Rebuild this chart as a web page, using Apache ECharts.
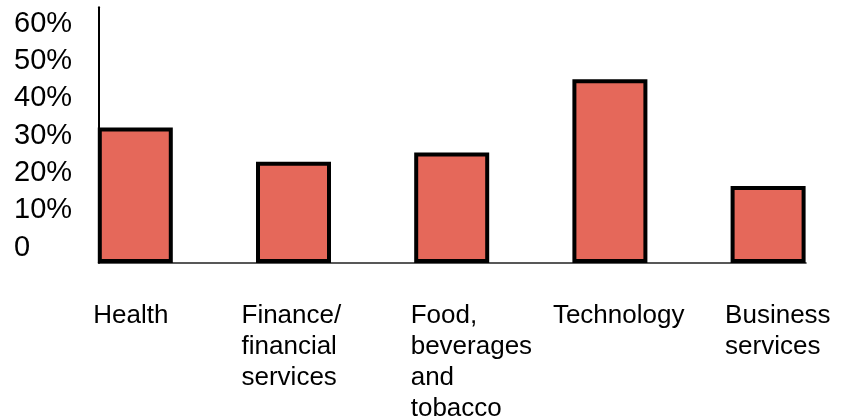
<!DOCTYPE html>
<html>
<head>
<meta charset="utf-8">
<title>Share by sector</title>
<script src="https://cdn.jsdelivr.net/npm/echarts@6/dist/echarts.min.js"></script>
<style>
  html, body { margin: 0; padding: 0; background: #fff; }
  #chart { width: 849px; height: 419px; }
</style>
</head>
<body>
<div id="chart"></div>
<script>
// Sectors and their shares (percent)
const categories = [
  'Health',
  'Finance/\nfinancial\nservices',
  'Food,\nbeverages\nand\ntobacco',
  'Technology',
  'Business\nservices'
];
const shares = [36.3, 27.1, 29.6, 49.2, 20.6];

// Value axis range and tick step (percent)
const yMin = 0;
const yMax = 68.5;
const yStep = 10;

// Extra left indent of each sector caption (px)
const captionIndent = [18, 8, 19, 3, 17];

const FONT = "'Liberation Sans', Arial, Helvetica, sans-serif";
const BAR_COLOR = '#e5685a';

const chart = echarts.init(document.getElementById('chart'), null, { renderer: 'canvas' });

const plotTop = 7.3;
const plotBottom = 156;

const captionStyle = {
  align: 'left', verticalAlign: 'top',
  fontFamily: FONT, fontSize: 26, lineHeight: 31, color: '#000'
};

chart.setOption({
  animation: false,
  backgroundColor: '#ffffff',
  grid: [
    // bars
    { left: 56.2, right: 1.8, top: plotTop, bottom: plotBottom, containLabel: false, outerBoundsMode: 'none' },
    // axis frame and percent labels
    { left: 98.5, right: 43, top: plotTop, bottom: plotBottom, containLabel: false, outerBoundsMode: 'none' },
    // sector captions
    { left: -3.8, right: 61.8, top: plotTop, bottom: plotBottom, containLabel: false, outerBoundsMode: 'none' }
  ],
  xAxis: [
    {
      gridIndex: 0, type: 'category', data: categories,
      axisLine: { show: false }, axisTick: { show: false }, axisLabel: { show: false }
    },
    {
      gridIndex: 1, type: 'value', min: 0, max: 1,
      axisLine: { show: true, lineStyle: { color: '#222', width: 1.6 } },
      axisTick: { show: false }, axisLabel: { show: false }, splitLine: { show: false }
    },
    {
      gridIndex: 2, type: 'category',
      data: categories.map((c, i) => ({
        value: c,
        textStyle: Object.assign({}, captionStyle, { padding: [0, 0, 0, captionIndent[i]] })
      })),
      axisLine: { show: false }, axisTick: { show: false },
      axisLabel: Object.assign({ interval: 0, margin: 37.5 }, captionStyle)
    }
  ],
  yAxis: [
    {
      gridIndex: 0, type: 'value', min: yMin, max: yMax, interval: yStep,
      show: false, splitLine: { show: false }
    },
    {
      gridIndex: 1, type: 'value', min: yMin, max: yMax, interval: yStep,
      axisLine: { show: true, lineStyle: { color: '#000', width: 2 } },
      axisTick: { show: false }, splitLine: { show: false },
      axisLabel: {
        align: 'left', verticalAlign: 'bottom', margin: 84.5,
        fontFamily: FONT, fontSize: 29, lineHeight: 31, color: '#000',
        showMaxLabel: false,
        formatter: v => (v % yStep !== 0 ? '' : (v === 0 ? '0' : v + '%'))
      }
    },
    {
      gridIndex: 2, type: 'value', min: yMin, max: yMax, show: false,
      splitLine: { show: false }
    }
  ],
  series: [
    {
      type: 'bar',
      xAxisIndex: 0, yAxisIndex: 0,
      data: shares,
      barWidth: 75,
      itemStyle: { color: BAR_COLOR, borderColor: '#000', borderWidth: 4 },
      z: 3
    }
  ]
});
</script>
</body>
</html>
